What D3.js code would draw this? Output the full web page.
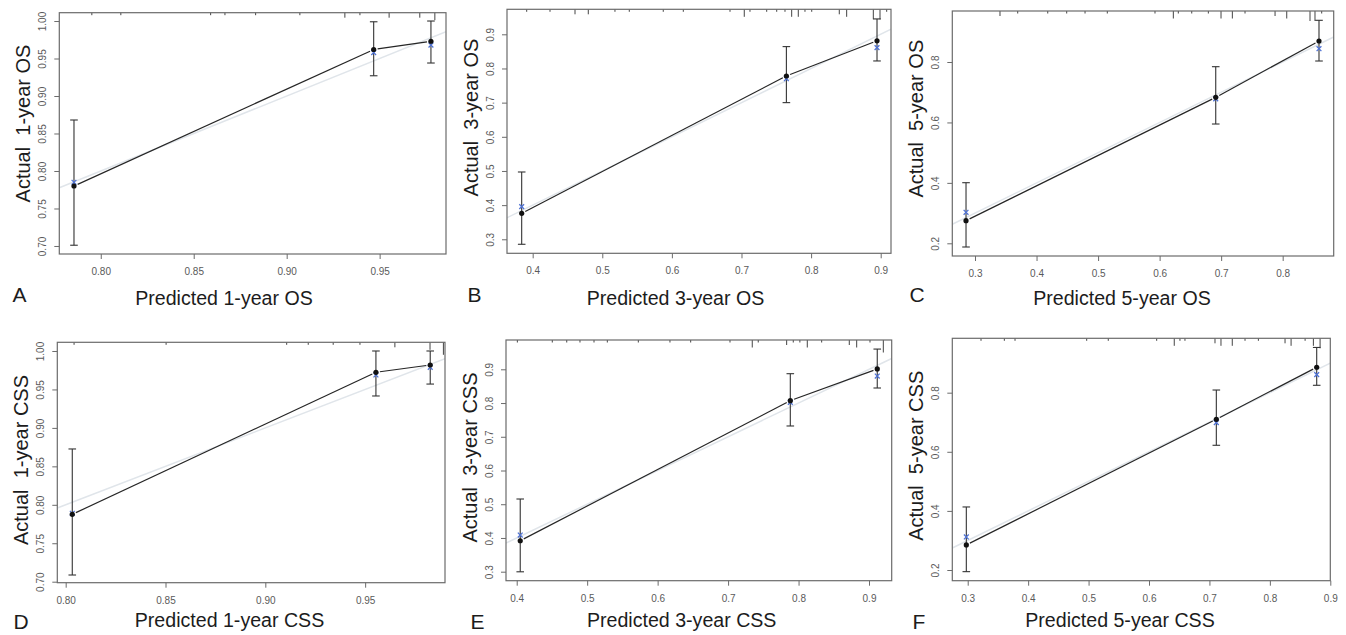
<!DOCTYPE html>
<html>
<head>
<meta charset="utf-8">
<script src="https://cdn.jsdelivr.net/npm/d3@7"></script>
<style>
  html, body { margin: 0; padding: 0; background: #ffffff; }
  svg { display: block; font-family: "Liberation Sans", Arial, sans-serif; }
</style>
</head>
<body>
<script>
// Calibration curves: predicted vs. actual survival, with bias-corrected estimates,
// 95% error bars, the ideal 45° line and the distribution of predicted risk on top.

// ---------- A: 1-year OS ----------
const predOS1 = [0.7856, 0.9468, 0.9776];
const obsOS1  = [0.780, 0.962, 0.973];
const corrOS1 = [0.785, 0.958, 0.968];
const loOS1   = [0.701, 0.927, 0.944];
const hiOS1   = [0.868, 0.999, 1.000];
const rugXOS1 = [0.7952, 0.8108, 0.8591, 0.8668, 0.8833, 0.9071, 0.9313, 0.9394, 0.9551, 0.9716, 0.9797];
const rugNOS1 = [1, 1, 1, 1, 1, 1, 2, 1, 2, 2, 3];
const xLimOS1 = [0.7777, 0.9857];
const yLimOS1 = [0.6893, 1.0111];
const xTicksOS1 = [0.80, 0.85, 0.90, 0.95];
const yTicksOS1 = [0.70, 0.75, 0.80, 0.85, 0.90, 0.95, 1.00];

// ---------- B: 3-year OS ----------
const predOS3 = [0.3842, 0.7645, 0.8947];
const obsOS3  = [0.376, 0.778, 0.881];
const corrOS3 = [0.3955, 0.770, 0.861];
const loOS3   = [0.2854, 0.700, 0.822];
const hiOS3   = [0.497, 0.864, 0.945];
const rugXOS3 = [0.3914, 0.4249, 0.4608, 0.4799, 0.5182, 0.5388, 0.5876, 0.6164, 0.6835, 0.7040, 0.7122, 0.7362,
                 0.7506, 0.7625, 0.7721, 0.7816, 0.7912, 0.8009, 0.8405, 0.8511, 0.8894, 0.8990, 0.9086];
const rugNOS3 = [1, 1, 2, 2, 1, 1, 1, 1, 1, 3, 1, 1, 1, 1, 3, 3, 1, 1, 2, 3, 4, 4, 1];
const xLimOS3 = [0.3631, 0.9148];
const yLimOS3 = [0.259, 0.9732];
const xTicksOS3 = [0.4, 0.5, 0.6, 0.7, 0.8, 0.9];
const yTicksOS3 = [0.3, 0.4, 0.5, 0.6, 0.7, 0.8, 0.9];

// ---------- C: 5-year OS ----------
const predOS5 = [0.2854, 0.6912, 0.859];
const obsOS5  = [0.275, 0.683, 0.8695];
const corrOS5 = [0.3026, 0.678, 0.844];
const loOS5   = [0.1878, 0.5948, 0.8033];
const hiOS5   = [0.4006, 0.7845, 0.938];
const rugXOS5 = [0.3406, 0.3694, 0.4182, 0.4490, 0.4788, 0.5150, 0.5925, 0.6223, 0.6304, 0.6522, 0.6792, 0.6998,
                 0.7182, 0.7388, 0.7876, 0.8066, 0.8444, 0.8525, 0.8634];
const rugNOS5 = [2, 1, 1, 1, 1, 1, 1, 3, 1, 1, 1, 3, 3, 1, 2, 3, 4, 4, 1];
const xLimOS5 = [0.2631, 0.8829];
const yLimOS5 = [0.158, 0.9688];
const xTicksOS5 = [0.3, 0.4, 0.5, 0.6, 0.7, 0.8];
const yTicksOS5 = [0.2, 0.4, 0.6, 0.8];

// ---------- D: 1-year CSS ----------
const predCSS1 = [0.8033, 0.9554, 0.9826];
const obsCSS1  = [0.7876, 0.9723, 0.9818];
const corrCSS1 = [0.789, 0.9688, 0.9788];
const loCSS1   = [0.7087, 0.9415, 0.957];
const hiCSS1   = [0.8726, 1.000, 1.000];
const rugXCSS1 = [0.8042, 0.8503, 0.9107, 0.9215, 0.9340, 0.9474, 0.9649, 0.9825, 0.9892];
const rugNCSS1 = [1, 1, 1, 1, 1, 1, 2, 3, 5];
const xLimCSS1 = [0.7958, 0.9900];
const yLimCSS1 = [0.6987, 1.0113];
const xTicksCSS1 = [0.80, 0.85, 0.90, 0.95];
const yTicksCSS1 = [0.70, 0.75, 0.80, 0.85, 0.90, 0.95, 1.00];

// ---------- E: 3-year CSS ----------
const predCSS3 = [0.405, 0.7883, 0.9117];
const obsCSS3  = [0.3918, 0.807, 0.901];
const corrCSS3 = [0.4086, 0.802, 0.880];
const loCSS3   = [0.2997, 0.732, 0.8446];
const hiCSS3   = [0.5155, 0.887, 0.960];
const rugXCSS3 = [0.4009, 0.4505, 0.4710, 0.4898, 0.5097, 0.5286, 0.5726, 0.6175, 0.6469, 0.7027, 0.7343, 0.7428,
                  0.7831, 0.7925, 0.8019, 0.8124, 0.8328, 0.8720, 0.8825, 0.9014, 0.9203];
const rugNCSS3 = [1, 1, 1, 1, 1, 1, 1, 1, 1, 1, 3, 1, 2, 1, 1, 3, 1, 2, 3, 1, 5];
const xLimCSS3 = [0.3848, 0.9322];
const yLimCSS3 = [0.2733, 0.9869];
const xTicksCSS3 = [0.4, 0.5, 0.6, 0.7, 0.8, 0.9];
const yTicksCSS3 = [0.3, 0.4, 0.5, 0.6, 0.7, 0.8, 0.9];

// ---------- F: 5-year CSS ----------
const predCSS5 = [0.2977, 0.7114, 0.8775];
const obsCSS5  = [0.2848, 0.710, 0.886];
const corrCSS5 = [0.3118, 0.6985, 0.861];
const loCSS5   = [0.1944, 0.622, 0.825];
const hiCSS5   = [0.4133, 0.809, 0.953];
const rugXCSS5 = [0.3220, 0.3606, 0.3783, 0.4969, 0.5326, 0.6127, 0.6418, 0.6512, 0.6595, 0.7092, 0.7191, 0.7378,
                  0.7589, 0.7810, 0.8251, 0.8351, 0.8583, 0.8720, 0.8831];
const rugNCSS5 = [1, 1, 1, 1, 1, 1, 3, 1, 1, 2, 3, 3, 1, 1, 2, 3, 1, 3, 4];
const xLimCSS5 = [0.2745, 0.9000];
const yLimCSS5 = [0.1638, 0.9840];
const xTicksCSS5 = [0.3, 0.4, 0.5, 0.6, 0.7, 0.8, 0.9];
const yTicksCSS5 = [0.2, 0.4, 0.6, 0.8];

// ---------- panel layout ----------
// box: [left, top, right, bottom]; xTitleX / yTitleY: title centres; letter: [x, baseline]
const panels = [
  { letter: "A", xTitle: "Predicted 1-year OS", yTitle: "Actual  1-year OS",
    pred: predOS1, obs: obsOS1, corr: corrOS1, lo: loOS1, hi: hiOS1, rugX: rugXOS1, rugN: rugNOS1,
    xLim: xLimOS1, yLim: yLimOS1, xTicks: xTicksOS1, yTicks: yTicksOS1, fmt: ".2f",
    box: [59.3, 12.7, 446, 254], xTitleX: 224, xTitleBase: 305, yTitleY: 123.5, letterPos: [12.5, 302] },
  { letter: "B", xTitle: "Predicted 3-year OS", yTitle: "Actual  3-year OS",
    pred: predOS3, obs: obsOS3, corr: corrOS3, lo: loOS3, hi: hiOS3, rugX: rugXOS3, rugN: rugNOS3,
    xLim: xLimOS3, yLim: yLimOS3, xTicks: xTicksOS3, yTicks: yTicksOS3, fmt: ".1f",
    box: [507, 9.3, 891, 253.3], xTitleX: 675.5, xTitleBase: 305, yTitleY: 117.5, letterPos: [467.5, 302] },
  { letter: "C", xTitle: "Predicted 5-year OS", yTitle: "Actual  5-year OS",
    pred: predOS5, obs: obsOS5, corr: corrOS5, lo: loOS5, hi: hiOS5, rugX: rugXOS5, rugN: rugNOS5,
    xLim: xLimOS5, yLim: yLimOS5, xTicks: xTicksOS5, yTicks: yTicksOS5, fmt: ".1f",
    box: [952.3, 11, 1333.7, 256], xTitleX: 1122, xTitleBase: 305, yTitleY: 118.7, letterPos: [909.5, 302] },
  { letter: "D", xTitle: "Predicted 1-year CSS", yTitle: "Actual  1-year CSS",
    pred: predCSS1, obs: obsCSS1, corr: corrCSS1, lo: loCSS1, hi: hiCSS1, rugX: rugXCSS1, rugN: rugNCSS1,
    xLim: xLimCSS1, yLim: yLimCSS1, xTicks: xTicksCSS1, yTicks: yTicksCSS1, fmt: ".2f",
    box: [57.3, 342.3, 445, 582.7], xTitleX: 229.5, xTitleBase: 626.5, yTitleY: 460, letterPos: [13.5, 628.5] },
  { letter: "E", xTitle: "Predicted 3-year CSS", yTitle: "Actual  3-year CSS",
    pred: predCSS3, obs: obsCSS3, corr: corrCSS3, lo: loCSS3, hi: hiCSS3, rugX: rugXCSS3, rugN: rugNCSS3,
    xLim: xLimCSS3, yLim: yLimCSS3, xTicks: xTicksCSS3, yTicks: yTicksCSS3, fmt: ".1f",
    box: [506, 340, 891.7, 580.7], xTitleX: 681.7, xTitleBase: 626.5, yTitleY: 457.5, letterPos: [470.5, 628.5] },
  { letter: "F", xTitle: "Predicted 5-year CSS", yTitle: "Actual  5-year CSS",
    pred: predCSS5, obs: obsCSS5, corr: corrCSS5, lo: loCSS5, hi: hiCSS5, rugX: rugXCSS5, rugN: rugNCSS5,
    xLim: xLimCSS5, yLim: yLimCSS5, xTicks: xTicksCSS5, yTicks: yTicksCSS5, fmt: ".1f",
    box: [952.3, 338.3, 1330.3, 580.7], xTitleX: 1120, xTitleBase: 626.5, yTitleY: 455.8, letterPos: [912.5, 628.5] }
];

const W = 1346, H = 635;
const svg = d3.select("body").append("svg").attr("width", W).attr("height", H);

const COL = {
  box: "#6b6b6b", tick: "#6b6b6b", tickText: "#5a5a5a", title: "#1c1c1c",
  ideal: "#e0e5ea", curve: "#262626", err: "#333333", dot: "#111111", corr: "#4f72d4"
};
const rugUnit = 2.5; // pixels per frequency unit of the risk distribution

panels.forEach((p, i) => {
  const [L, T, R, B] = p.box;
  const x = d3.scaleLinear().domain(p.xLim).range([L, R]);
  const y = d3.scaleLinear().domain(p.yLim).range([B, T]);
  const g = svg.append("g").attr("class", "panel-" + p.letter);

  const clipId = "clip" + i;
  g.append("clipPath").attr("id", clipId)
    .append("rect").attr("x", L).attr("y", T).attr("width", R - L).attr("height", B - T);

  // ideal 45° reference line
  const lo = Math.max(p.xLim[0], p.yLim[0]), hi = Math.min(p.xLim[1], p.yLim[1]);
  g.append("line")
    .attr("clip-path", `url(#${clipId})`)
    .attr("x1", x(lo)).attr("y1", y(lo)).attr("x2", x(hi)).attr("y2", y(hi))
    .attr("stroke", COL.ideal).attr("stroke-width", 1.5);

  // distribution of predicted risk along the top edge
  g.selectAll("line.rug").data(p.rugX.map((v, k) => [v, p.rugN[k]])).join("line")
    .attr("class", "rug")
    .attr("x1", d => x(d[0])).attr("x2", d => x(d[0]))
    .attr("y1", T).attr("y2", d => T + d[1] * rugUnit)
    .attr("stroke", "#444").attr("stroke-width", 1);

  // observed calibration curve, drawn with small gaps around the points
  const pts = p.pred.map((v, k) => [x(v), y(p.obs[k])]);
  const gap = 4;
  for (let k = 0; k < pts.length - 1; k++) {
    const [x0, y0] = pts[k], [x1, y1] = pts[k + 1];
    const len = Math.hypot(x1 - x0, y1 - y0);
    if (len <= 2 * gap) continue;
    const ux = (x1 - x0) / len, uy = (y1 - y0) / len;
    g.append("line")
      .attr("x1", x0 + ux * gap).attr("y1", y0 + uy * gap)
      .attr("x2", x1 - ux * gap).attr("y2", y1 - uy * gap)
      .attr("stroke", COL.curve).attr("stroke-width", 1.2);
  }

  // error bars
  const cap = 3.8;
  const eb = g.selectAll("g.err").data(p.pred.map((v, k) => ({ v, lo: p.lo[k], hi: p.hi[k] }))).join("g")
    .attr("class", "err").attr("stroke", COL.err).attr("stroke-width", 1.1);
  eb.append("line").attr("x1", d => x(d.v)).attr("x2", d => x(d.v)).attr("y1", d => y(d.lo)).attr("y2", d => y(d.hi));
  eb.append("line").attr("x1", d => x(d.v) - cap).attr("x2", d => x(d.v) + cap).attr("y1", d => y(d.lo)).attr("y2", d => y(d.lo));
  eb.append("line").attr("x1", d => x(d.v) - cap).attr("x2", d => x(d.v) + cap).attr("y1", d => y(d.hi)).attr("y2", d => y(d.hi));

  // bias-corrected estimates (x marks)
  const s = 2.4;
  g.selectAll("path.corr").data(p.pred.map((v, k) => [v, p.corr[k]])).join("path")
    .attr("class", "corr")
    .attr("d", d => {
      const cx = x(d[0]), cy = y(d[1]);
      return `M${cx - s},${cy - s}L${cx + s},${cy + s}M${cx - s},${cy + s}L${cx + s},${cy - s}`;
    })
    .attr("stroke", COL.corr).attr("stroke-width", 1.3).attr("fill", "none");

  // observed points
  g.selectAll("circle.obs").data(p.pred.map((v, k) => [v, p.obs[k]])).join("circle")
    .attr("class", "obs")
    .attr("cx", d => x(d[0])).attr("cy", d => y(d[1])).attr("r", 2.6)
    .attr("fill", COL.dot);

  // frame
  g.append("rect").attr("x", L).attr("y", T).attr("width", R - L).attr("height", B - T)
    .attr("fill", "none").attr("stroke", COL.box).attr("stroke-width", 1.2);

  // x axis
  const fmt = d3.format(p.fmt);
  const xa = g.append("g").attr("transform", `translate(0,${B})`)
    .call(d3.axisBottom(x).tickValues(p.xTicks).tickFormat(fmt).tickSize(5).tickSizeOuter(0).tickPadding(9));
  xa.select(".domain").remove();
  xa.selectAll(".tick line").attr("stroke", COL.tick);
  xa.selectAll(".tick text").attr("fill", COL.tickText).attr("font-size", 10)
    .attr("font-family", "'Liberation Sans', Arial, sans-serif");

  // y axis (labels parallel to the axis)
  const ya = g.append("g").attr("transform", `translate(${L},0)`)
    .call(d3.axisLeft(y).tickValues(p.yTicks).tickFormat(fmt).tickSize(5).tickSizeOuter(0));
  ya.select(".domain").remove();
  ya.selectAll(".tick line").attr("stroke", COL.tick);
  ya.selectAll(".tick text")
    .attr("x", null).attr("dy", null)
    .attr("fill", COL.tickText).attr("font-size", 10)
    .attr("font-family", "'Liberation Sans', Arial, sans-serif")
    .attr("text-anchor", "middle")
    .attr("transform", "translate(-13.5,0) rotate(-90)");

  // titles
  g.append("text")
    .attr("x", p.xTitleX).attr("y", p.xTitleBase)
    .attr("text-anchor", "middle").attr("font-size", 19.6).attr("fill", COL.title)
    .style("white-space", "pre")
    .text(p.xTitle);
  g.append("text")
    .attr("transform", `translate(${L - 29.5},${p.yTitleY}) rotate(-90)`)
    .attr("text-anchor", "middle").attr("font-size", 20).attr("fill", COL.title)
    .style("white-space", "pre")
    .text(p.yTitle);

  // panel letter
  g.append("text")
    .attr("x", p.letterPos[0]).attr("y", p.letterPos[1])
    .attr("font-size", 21).attr("fill", COL.title)
    .text(p.letter);
});
</script>
</body>
</html>
